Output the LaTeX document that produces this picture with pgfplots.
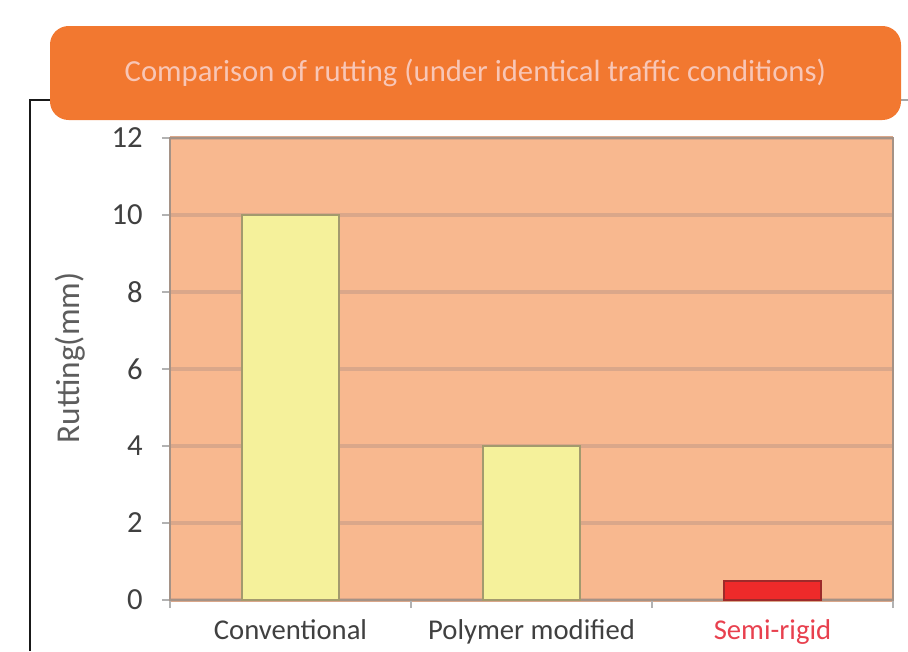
\documentclass[border=0pt]{standalone}
\usepackage{fontspec}
\setmainfont{Carlito}
\usepackage{pgfplots}
\pgfplotsset{compat=1.18}
\definecolor{bgfill}{HTML}{F8B88F}
\definecolor{titleorange}{HTML}{F27830}
\definecolor{titletext}{HTML}{F8C6B6}
\definecolor{gridc}{HTML}{DAA78A}
\definecolor{baryellow}{HTML}{F5F19B}
\definecolor{baryedge}{HTML}{A39A6E}
\definecolor{barred}{HTML}{EE2A2A}
\definecolor{barredge}{HTML}{9E2A2A}
\definecolor{framec}{HTML}{A59286}
\definecolor{ticktext}{HTML}{404040}
\definecolor{semired}{HTML}{E8404E}
\begin{document}
\begin{tikzpicture}
\path[use as bounding box] (0pt,0pt) rectangle (681pt,-488.25pt);
% outer frame fragments
\draw[line width=1.5pt, color=black!90] (22.5pt,-488.25pt) -- (22.5pt,-75pt) -- (37.5pt,-75pt);
\draw[line width=1pt, color=gray!70] (675pt,-75pt) -- (681pt,-75pt);
% title box
\fill[titleorange, rounded corners=14pt] (37.5pt,-19.5pt) rectangle (675.75pt,-90pt);
\node[text=titletext, font=\fontsize{23}{26}\selectfont] at (356.5pt,-54.75pt) {Comparison of rutting (under identical traffic conditions)};
% y label
\node[rotate=90, text=ticktext!85, font=\fontsize{25}{28}\selectfont] at (52.5pt,-268.5pt) {Rutting(mm)};
\begin{axis}[
  at={(127.5pt,-450pt)}, anchor=south west,
  width=542.25pt, height=346.5pt, scale only axis,
  xmin=-0.5, xmax=2.5, ymin=0, ymax=12,
  axis background/.style={fill=bgfill},
  axis line style={draw=framec, line width=1.5pt},
  ytick={0,2,4,6,8,10,12},
  xtick={-0.5,0.5,1.5,2.5}, xticklabels={},
  xtick pos=bottom, ytick pos=left,
  extra x ticks={0,1,2},
  extra x tick labels={Conventional,Polymer modified,\textcolor{semired}{Semi-rigid}},
  extra x tick style={major tick length=0pt, grid=none,
     xticklabel style={yshift=-11pt}},
  tick align=outside, major tick length=6pt,
  tick style={draw=gray!60, line width=1.2pt},
  ymajorgrids, grid style={draw=gridc, line width=2.4pt},
  /pgf/number format/assume math mode=true,
  ticklabel style={font=\fontsize{23}{26}\selectfont, text=ticktext},
  xticklabel style={font=\fontsize{21.5}{26}\selectfont},
  yticklabel style={xshift=-11pt},
  ybar, bar width=0.405,
]
\addplot[bar shift=0pt, fill=baryellow, draw=baryedge, line width=1.5pt] coordinates {(0,10) (1,4)};
\addplot[bar shift=0pt, fill=barred, draw=barredge, line width=1.5pt] coordinates {(2,0.5)};
\end{axis}
\end{tikzpicture}
\end{document}
